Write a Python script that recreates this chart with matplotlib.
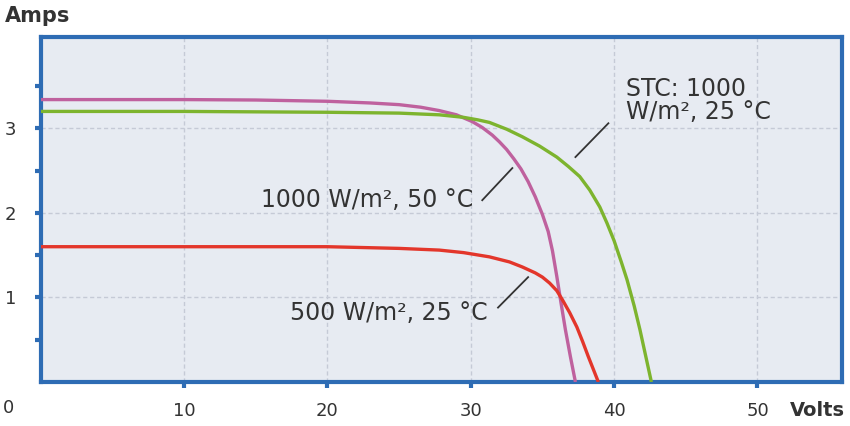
import matplotlib.pyplot as plt

# I-V curves of a PV module
# 1000 W/m2, 50 C (magenta)
v_hot = [0, 10, 15, 20, 23, 25, 26.5, 27.8, 29, 30.1, 30.8, 31.5, 32.0, 32.5, 33.0, 33.5,
         34.0, 34.5, 35.0, 35.4, 35.7, 36.0, 36.3, 36.6, 36.95, 37.3]
i_hot = [3.34, 3.34, 3.335, 3.32, 3.30, 3.28, 3.25, 3.21, 3.16, 3.08, 3.01, 2.92, 2.84, 2.75,
         2.64, 2.52, 2.37, 2.19, 1.98, 1.78, 1.55, 1.25, 0.93, 0.62, 0.30, 0.0]
# STC: 1000 W/m2, 25 C (green)
v_stc = [0, 10, 20, 25, 27.8, 29.5, 30.5, 31.3, 32.5, 33.6, 34.8, 36.0, 36.8, 37.6, 38.3,
         39.0, 39.5, 40.0, 40.5, 40.9, 41.4, 41.8, 42.2, 42.6]
i_stc = [3.20, 3.20, 3.19, 3.18, 3.16, 3.13, 3.10, 3.07, 2.99, 2.90, 2.79, 2.66, 2.55, 2.43,
         2.27, 2.07, 1.88, 1.67, 1.42, 1.21, 0.90, 0.62, 0.31, 0.0]
# 500 W/m2, 25 C (red)
v_low = [0, 10, 20, 25, 27.8, 29.5, 31.3, 32.0, 32.7, 33.6, 34.5, 35.0, 35.5, 36.0, 36.4,
         36.9, 37.4, 37.8, 38.2, 38.55, 38.9]
i_low = [1.60, 1.60, 1.60, 1.58, 1.56, 1.53, 1.48, 1.45, 1.42, 1.36, 1.29, 1.24, 1.17, 1.08,
         0.97, 0.82, 0.65, 0.48, 0.30, 0.15, 0.0]

x_ticks = [10, 20, 30, 40, 50]
y_ticks = [0.5, 1, 1.5, 2, 2.5, 3, 3.5]
y_labels = ["", "1", "", "2", "", "3", ""]

blue = "#2e6cb4"
txt = "#333333"
plt.rcParams['font.family'] = ['DejaVu Sans']

fig = plt.figure(figsize=(8.5, 4.26), dpi=100)
ax = fig.add_axes([0.048, 0.1033, 0.9426, 0.8098])
ax.set_facecolor("#e7ebf2")

#grid
for gx in x_ticks:
    ax.axvline(gx, color="#c5cad6", lw=1, ls=(0, (3, 2)), zorder=1)
for gy in [1, 2, 3]:
    ax.axhline(gy, color="#c5cad6", lw=1, ls=(0, (3, 2)), zorder=1)

#curves
kw = dict(lw=2.4, solid_capstyle="butt", solid_joinstyle="round")
ax.plot(v_hot, i_hot, color="#bf619e", zorder=3, **kw)
ax.plot(v_stc, i_stc, color="#7db42e", zorder=4, **kw)
ax.plot(v_low, i_low, color="#e3362b", zorder=5, **kw)

ax.set_xlim(0, 55.9)
ax.set_ylim(0, 4.08)

#frame and ticks
for s in ax.spines.values():
    s.set_color(blue)
    s.set_linewidth(3)
ax.set_xticks(x_ticks)
ax.set_xticklabels([str(t) for t in x_ticks])
ax.set_yticks(y_ticks)
ax.set_yticklabels(y_labels)
ax.tick_params(axis="x", direction="out", length=4.5, width=3, color=blue,
               pad=10, labelsize=13, labelcolor=txt)
ax.tick_params(axis="y", direction="out", length=4.5, width=3, color=blue,
               pad=13, labelsize=13, labelcolor=txt)

ax.annotate("0", xy=(0, 0), xytext=(-23, -19), textcoords="offset points",
            ha="center", va="center", fontsize=13, color=txt)
fig.text(0.006, 0.963, "Amps", fontsize=15, fontweight="bold", color=txt,
         ha="left", va="center")
fig.text(0.929, 0.037, "Volts", fontsize=14, fontweight="bold", color=txt,
         ha="left", va="center")

#labels with leader lines
fs = 17
ax.text(40.8, 3.33, "STC: 1000\nW/m\u00b2, 25 \u00b0C", fontsize=fs, color=txt,
        ha="left", va="center", linespacing=0.95, zorder=6)
ax.plot([37.3, 39.6], [2.66, 3.06], color=txt, lw=1.3, zorder=6)
ax.text(30.15, 2.15, "1000 W/m\u00b2, 50 \u00b0C", fontsize=fs, color=txt,
        ha="right", va="center", zorder=6)
ax.plot([30.8, 32.9], [2.15, 2.53], color=txt, lw=1.3, zorder=6)
ax.text(31.2, 0.82, "500 W/m\u00b2, 25 \u00b0C", fontsize=fs, color=txt,
        ha="right", va="center", zorder=6)
ax.plot([31.9, 34.0], [0.88, 1.24], color=txt, lw=1.3, zorder=6)

fig.savefig("out.png", dpi=100)
